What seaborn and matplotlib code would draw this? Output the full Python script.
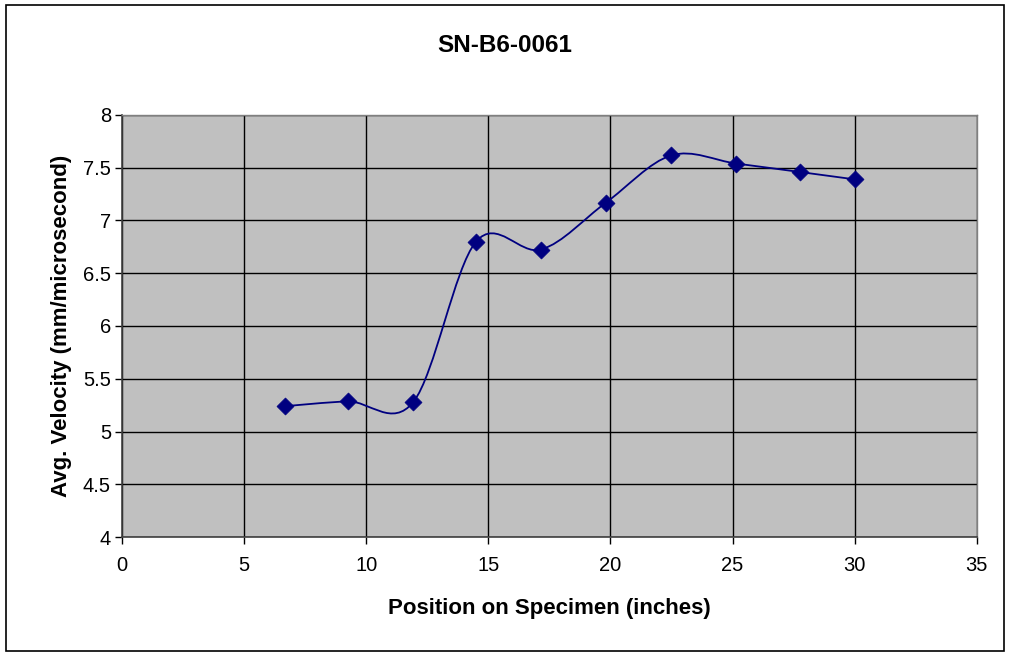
import numpy as np
import pandas as pd
import matplotlib
matplotlib.use("Agg")
import matplotlib.pyplot as plt
import seaborn as sns
from matplotlib.path import Path
from matplotlib.patches import PathPatch, Rectangle

# dati
posizione = [6.67, 9.25, 11.93, 14.49, 17.17, 19.81, 22.49, 25.15, 27.75, 30.0]
velocita = [5.24, 5.285, 5.28, 6.797, 6.725, 7.168, 7.617, 7.54, 7.46, 7.39]
xticks = [0, 5, 10, 15, 20, 25, 30, 35]
yticks = [4, 4.5, 5, 5.5, 6, 6.5, 7, 7.5, 8]
ytick_labels = ["4", "4.5", "5", "5.5", "6", "6.5", "7", "7.5", "8"]

df = pd.DataFrame({"pos": posizione, "vel": velocita})

sns.set_theme(style="white")
plt.rcParams["font.family"] = ["Liberation Sans", "DejaVu Sans"]
plt.rcParams["text.color"] = "black"
plt.rcParams["axes.labelcolor"] = "black"

fig = plt.figure(figsize=(10.09, 6.56), dpi=100)
ax = fig.add_axes([0.1209, 0.1814, 0.968 - 0.1209, 0.8247 - 0.1814])
ax.set_facecolor("#C0C0C0")

# linea smussata stile Excel (Bezier con tangenti Catmull-Rom)
pts = df[["pos", "vel"]].to_numpy()
verts = [tuple(pts[0])]
codes = [Path.MOVETO]
n = len(pts)
for i in range(n - 1):
    p0 = pts[i - 1] if i > 0 else pts[i]
    p1 = pts[i]
    p2 = pts[i + 1]
    p3 = pts[i + 2] if i + 2 < n else pts[i + 1]
    c1 = p1 + (p2 - p0) / 6.0
    c2 = p2 - (p3 - p1) / 6.0
    verts += [tuple(c1), tuple(c2), tuple(p2)]
    codes += [Path.CURVE4] * 3
ax.add_patch(PathPatch(Path(verts, codes), facecolor="none", edgecolor="#000080", lw=1.3, zorder=3))

sns.scatterplot(data=df, x="pos", y="vel", marker="D", s=75, color="#000080",
                edgecolor="#000080", linewidth=0.5, ax=ax, zorder=4)

ax.set_xlim(0, 35)
ax.set_ylim(4, 8)
ax.set_xticks(xticks)
ax.set_yticks(yticks)
ax.set_yticklabels(ytick_labels)
ax.grid(True, color="black", lw=1.0)
ax.set_axisbelow(True)
for s in ["top", "right"]:
    ax.spines[s].set_color("#808080")
    ax.spines[s].set_linewidth(1.0)
for s in ["left", "bottom"]:
    ax.spines[s].set_color("#404040")
    ax.spines[s].set_linewidth(1.2)
ax.tick_params(axis="both", direction="out", length=5, width=1, color="black",
               labelsize=14.5, labelcolor="black", left=True, bottom=True, pad=3)
ax.tick_params(axis="x", pad=9)

ax.set_xlabel("Position on Specimen (inches)", fontsize=16, fontweight="bold", labelpad=16)
ax.set_ylabel("Avg. Velocity (mm/microsecond)", fontsize=16, fontweight="bold", labelpad=8)
fig.text(0.5, 0.931, "SN-B6-0061", ha="center", va="center", fontsize=17.5, fontweight="bold")

# bordo esterno del grafico
fig.patches.append(Rectangle((0.006, 0.007), 0.989, 0.985, transform=fig.transFigure,
                             fill=False, edgecolor="black", lw=1.2))

fig.savefig("out.png", dpi=100, facecolor="white")
